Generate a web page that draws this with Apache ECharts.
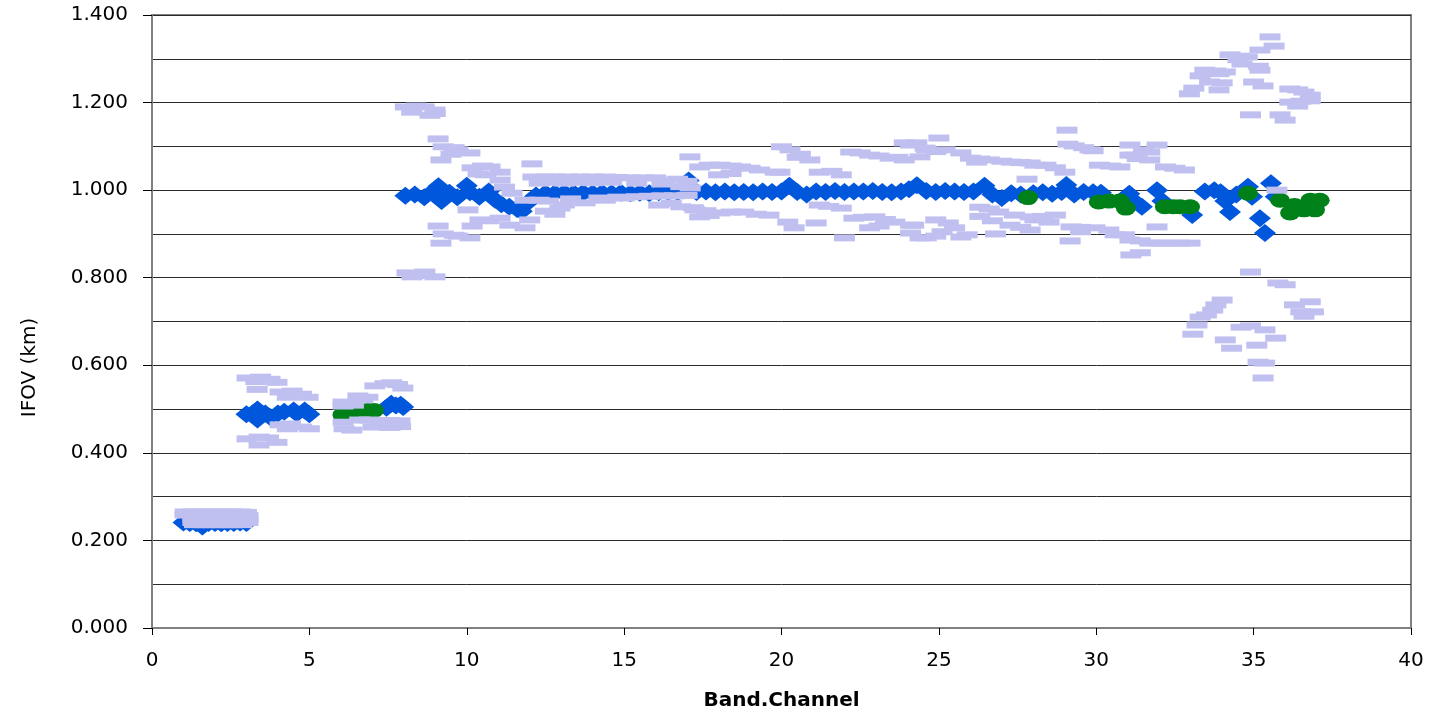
<!DOCTYPE html>
<html><head><meta charset="utf-8">
<script src="https://cdn.jsdelivr.net/npm/echarts@6/dist/echarts.min.js"></script>
<style>html,body{margin:0;padding:0;background:#fff;overflow:hidden}#c{width:1439px;height:717px}</style>
</head><body><div id="c"></div>
<script>
// ---- axis settings ----
const xMin = 0, xMax = 40, xStep = 5;
const yMin = 0, yMax = 1.4, yStep = 0.2;
const xTitle = 'Band.Channel';
const yTitle = 'IFOV (km)';

// ---- blue diamonds (measured IFOV) ----
const blueBand1_2 = [[1.0,0.241],[1.2,0.240],[1.4,0.239],[1.6,0.232],[1.8,0.240],[2.0,0.240],[2.2,0.239],[2.4,0.240],[2.6,0.240],[2.8,0.241],[3.0,0.240]];
const blueBand3_7 = [[3.0,0.488],[3.2,0.490],[3.35,0.499],[3.35,0.476],[3.6,0.490],[3.75,0.482],[4.0,0.490],[4.2,0.494],[4.5,0.497],[4.6,0.490],[4.85,0.497],[5.0,0.488],
  [7.45,0.503],[7.6,0.512],[7.75,0.508],[7.9,0.510],[7.98,0.505]];
const blue1km = [[8.05,0.987],[8.35,0.990],[8.65,0.984],[8.9,0.996],[9.1,1.009],[9.2,0.975],[9.45,0.994],[9.7,0.984],[10.0,1.010],[10.1,0.995],[10.4,0.985],[10.7,0.997],[10.9,0.978],[11.1,0.968],[11.35,0.962],[11.6,0.957],[11.75,0.952],[12.0,0.975],[12.2,0.988],
  [12.5,0.993],[12.8,0.993],[13.1,0.994],[13.4,0.993],[13.7,0.994],[14.0,0.993],[14.3,0.994],[14.6,0.993],[14.9,0.994],[15.2,0.993],[15.5,0.994],[15.8,0.993],[16.1,0.995],[16.4,0.996],[16.7,0.995],[17.05,1.022],[17.3,0.996],[17.6,0.997],[17.9,0.995],
  [18.2,0.997],[18.5,0.995],[18.8,0.996],[19.1,0.995],[19.4,0.997],[19.7,0.996],[20.0,0.997],[20.25,1.010],[20.5,0.996],[20.8,0.990],[21.1,0.997],[21.4,0.996],[21.7,0.998],[22.0,0.996],[22.3,0.997],[22.6,0.997],[22.9,0.998],[23.2,0.996],[23.5,0.995],
  [23.8,0.997],[24.05,1.002],[24.3,1.011],[24.6,0.998],[24.9,0.996],[25.2,0.998],[25.5,0.997],[25.8,0.996],[26.1,0.997],[26.45,1.010],[26.7,0.990],[27.0,0.982],[27.3,0.993],[27.6,0.990],[28.0,0.993],[28.3,0.995],[28.6,0.992],[28.9,0.996],[29.05,1.012],
  [29.3,0.990],[29.6,0.996],[29.9,0.995],[30.15,0.994],
  [31.05,0.992],[31.2,0.975],[31.45,0.962],[31.93,1.000],[32.1,0.975],[33.05,0.943],[33.45,0.997],[33.75,1.000],[33.95,0.995],[34.1,0.975],[34.25,0.950],[34.45,0.990],[34.82,1.008],[34.95,0.985],[35.2,0.936],[35.36,0.902],[35.55,1.016],[35.7,0.985]];

// ---- green circles ----
const greenBand6_7 = [[6.05,0.487],[6.25,0.489],[6.45,0.491],[6.65,0.495],[6.85,0.497],[7.05,0.497]];
const green1km = [[27.83,0.983],[30.08,0.973],[30.4,0.975],[30.75,0.975],[30.94,0.959],[32.18,0.962],[32.45,0.962],[32.66,0.962],[32.98,0.962],[34.82,0.993],
  [35.84,0.977],[36.16,0.948],[36.3,0.965],[36.6,0.955],[36.8,0.977],[36.95,0.955],[37.1,0.977]];

// ---- lavender rectangles (per-detector values) ----
const lavBand1_2 = [[1.05,0.265],[1.3,0.265],[1.55,0.265],[1.8,0.265],[2.05,0.265],[2.3,0.265],[2.55,0.265],[2.8,0.265],[3.0,0.264],
  [1.05,0.258],[1.3,0.258],[1.6,0.258],[1.9,0.258],[2.2,0.258],[2.5,0.258],[2.8,0.258],[3.05,0.257],
  [1.3,0.249],[1.6,0.249],[1.9,0.249],[2.2,0.249],[2.5,0.249],[2.8,0.249],[3.05,0.249],
  [1.3,0.241],[1.6,0.241],[1.9,0.241],[2.2,0.241],[2.5,0.241],[2.8,0.241],[3.05,0.241],
  [1.35,0.236],[1.65,0.236],[1.95,0.236],[2.25,0.236],[2.55,0.236],[2.85,0.236]];
const lavBand3_7 = [[3.02,0.571],[3.45,0.573],[3.75,0.568],[3.97,0.561],[3.3,0.563],[3.34,0.545],
  [4.07,0.539],[4.45,0.541],[4.75,0.534],[4.96,0.527],[4.3,0.527],
  [4.07,0.464],[4.4,0.466],[4.75,0.459],[5.0,0.455],[4.3,0.455],
  [3.02,0.432],[3.4,0.436],[3.7,0.434],[3.97,0.424],[3.4,0.418],
  [6.07,0.516],[6.3,0.514],[6.07,0.507],[6.4,0.509],[6.54,0.530],[6.86,0.527],[6.7,0.521],
  [7.08,0.553],[7.4,0.558],[7.62,0.560],[7.97,0.548],[7.8,0.556],
  [6.07,0.470],[6.1,0.455],[6.35,0.452],[6.6,0.475],[6.9,0.475],[7.24,0.470],[7.56,0.474],[7.88,0.473],[7.56,0.458],[7.02,0.459],[7.9,0.460]];
const lavUpper = [[8.05,1.190],[8.4,1.192],[8.65,1.190],[8.99,1.183],[8.83,1.171],[8.25,1.178],[9.0,1.175],
  [9.09,1.117],[9.25,1.099],[9.6,1.097],[9.72,1.092],[10.1,1.085],[9.5,1.082],[9.18,1.069],
  [10.17,1.051],[10.5,1.055],[10.74,1.053],[11.06,1.041],[10.36,1.037],[10.6,1.035],[12.07,1.060],
  [11.06,1.023],[11.2,1.007],[11.44,0.993],[11.85,0.977],
  [12.1,1.030],[12.5,1.030],[12.8,1.030],[13.2,1.030],[13.6,1.030],[14.0,1.030],[14.4,1.030],[14.8,1.029],[15.2,1.028],[15.6,1.028],[16.0,1.028],[16.3,1.023],[16.7,1.025],[17.0,1.020],
  [12.3,1.016],[12.7,1.018],[13.1,1.016],[13.5,1.018],[14.0,1.017],[14.6,1.018],[15.4,1.016],[16.2,1.014],[16.8,1.008],[17.1,1.005],
  [17.09,1.076],[17.4,1.053],[17.7,1.057],[18.05,1.057],[18.4,1.055],[18.7,1.053],[19.0,1.050],[19.3,1.046],[19.8,1.041],[18.0,1.035],[18.4,1.038],[19.95,1.041],
  [20.0,1.099],[20.27,1.092],[20.6,1.082],[20.9,1.069],[20.5,1.075],[21.2,1.041],[21.6,1.043],[21.9,1.035],
  [22.2,1.087],[22.5,1.085],[22.8,1.080],[23.1,1.078],[23.45,1.073],[23.9,1.069],[23.7,1.075],[24.1,1.103],[24.6,1.092],[23.9,1.108],[24.3,1.108],
  [25.0,1.119],[24.56,1.096],[25.2,1.092],[25.7,1.085],[24.4,1.076],[24.9,1.088],
  [26.0,1.073],[26.3,1.071],[26.6,1.069],[27.0,1.066],[27.3,1.064],[27.6,1.063],[27.9,1.062],[28.4,1.057],[26.2,1.064],
  [29.07,1.137],[29.3,1.101],[29.6,1.097],[29.8,1.092],[29.1,1.105],[29.9,1.090],
  [30.1,1.057],[30.45,1.055],[30.75,1.053],[31.07,1.103],[31.93,1.103],
  [31.07,1.080],[31.23,1.080],[31.5,1.092],[31.7,1.087],[31.7,1.069],[31.3,1.072],
  [32.2,1.053],[32.5,1.050],[32.8,1.046],[28.7,1.051],[29.0,1.041],[28.05,1.057],[27.8,1.025],[35.74,1.000]];
const lavLower = [[12.3,0.977],[12.6,0.975],[13.1,0.966],[13.3,0.980],[13.76,0.971],[14.2,0.982],[14.4,0.977],[14.8,0.984],[15.0,0.982],[15.4,0.985],[15.8,0.986],[16.2,0.987],[16.6,0.987],[17.0,0.988],[16.1,0.966],[16.5,0.970],[16.8,0.962],[17.2,0.960],
  [12.5,0.952],[12.96,0.959],[12.8,0.945],[12.0,0.932],[11.85,0.914],
  [10.04,0.955],[10.42,0.932],[11.06,0.936],[11.37,0.920],[10.17,0.918],[10.7,0.930],
  [9.09,0.918],[9.25,0.900],[9.6,0.897],[9.72,0.895],[10.1,0.891],[9.18,0.879],
  [8.10,0.811],[8.67,0.813],[8.99,0.802],[8.26,0.802],[8.5,0.805],
  [17.25,0.955],[17.6,0.953],[18.05,0.948],[18.4,0.950],[18.8,0.950],[19.2,0.945],[19.6,0.943],[17.4,0.939],[17.7,0.942],
  [20.2,0.927],[20.4,0.914],[21.2,0.966],[21.5,0.963],[21.9,0.959],[21.1,0.925],[22.0,0.891],
  [22.3,0.936],[22.6,0.938],[22.97,0.939],[23.3,0.933],[23.6,0.927],[24.1,0.920],[22.8,0.914],[23.1,0.918],[24.1,0.902],[24.6,0.891],
  [24.2,0.920],[24.9,0.932],[25.5,0.914],[25.7,0.893],[24.4,0.891],[25.1,0.905],[25.3,0.925],[24.9,0.895],[25.9,0.898],[26.8,0.900],
  [26.3,0.961],[26.6,0.957],[26.9,0.950],[26.3,0.940],[26.7,0.930],
  [27.26,0.920],[27.6,0.915],[27.9,0.909],[27.4,0.943],[27.9,0.939],[28.05,0.932],[28.5,0.927],[28.7,0.943],[28.3,0.940],
  [29.2,0.916],[29.5,0.915],[29.96,0.914],[30.4,0.909],[30.6,0.898],[30.9,0.898],[29.5,0.905],[29.17,0.884],
  [31.07,0.886],[31.4,0.884],[31.7,0.879],[32.0,0.879],[32.3,0.879],[32.65,0.879],[32.98,0.879],[31.93,0.916],[31.1,0.852],[31.4,0.857]];
const lavFarHigh = [[35.52,1.350],[35.65,1.329],[35.2,1.320],[34.25,1.309],[34.55,1.306],[34.8,1.304],[34.5,1.298],[34.63,1.288],[33.45,1.274],[33.8,1.272],[34.1,1.270],[33.9,1.266],
  [35.2,1.274],[35.15,1.283],[33.3,1.261],[33.6,1.247],[34.0,1.245],[35.0,1.247],[35.3,1.238],[33.1,1.233],[32.96,1.220],[33.9,1.229],
  [36.15,1.231],[36.4,1.229],[36.6,1.224],[36.8,1.217],[36.15,1.201],[36.5,1.203],[36.8,1.204],[36.4,1.192],[34.9,1.172],[35.84,1.172],[36.0,1.160]];
const lavFarLow = [[34.9,0.813],[35.77,0.788],[36.0,0.784],[34.0,0.749],[33.8,0.738],[33.7,0.726],[33.5,0.715],[33.3,0.710],[36.3,0.738],[36.8,0.745],[36.5,0.722],[36.9,0.722],[36.6,0.712],
  [33.2,0.692],[33.07,0.671],[34.6,0.687],[34.9,0.690],[35.36,0.681],[34.1,0.658],[35.7,0.662],[34.3,0.639],[35.1,0.646],[35.14,0.607],[35.35,0.605],[35.3,0.571]];

const BLUE = '#0057dc', GREEN = '#008018', LAV = '#c0c0f0';
const FONT = 'DejaVu Sans';

const chart = echarts.init(document.getElementById('c'), null, {renderer: 'canvas'});
const blueData = blueBand1_2.concat(blueBand3_7, blue1km);
const greenData = greenBand6_7.concat(green1km);
const lavData = lavBand1_2.concat(lavBand3_7, lavUpper, lavLower, lavFarHigh, lavFarLow);

chart.setOption({
  animation: false,
  backgroundColor: '#ffffff',
  grid: {left: 152, right: 28, top: 15, bottom: 89, show: true, borderColor: '#808080', borderWidth: 2, backgroundColor: 'transparent'},
  xAxis: {
    type: 'value', min: xMin, max: xMax, interval: xStep,
    name: xTitle, nameLocation: 'middle', nameGap: 63,
    nameTextStyle: {fontFamily: FONT, fontSize: 20, fontWeight: 'bold', color: '#000'},
    axisLine: {show: true, lineStyle: {color: '#808080', width: 2}},
    axisTick: {show: true, length: 7, lineStyle: {color: '#000', width: 1}},
    axisLabel: {fontFamily: FONT, fontSize: 20, color: '#000', margin: 23},
    splitLine: {show: false}
  },
  yAxis: {
    type: 'value', min: yMin, max: yMax, interval: yStep,
    name: yTitle, nameLocation: 'middle', nameGap: 112, nameRotate: 90,
    nameTextStyle: {fontFamily: FONT, fontSize: 20, color: '#000', padding: [0, 92, 0, 0]},
    axisLine: {show: true, lineStyle: {color: '#808080', width: 2}},
    axisTick: {show: true, length: 9, lineStyle: {color: '#000', width: 1}},
    axisLabel: {fontFamily: FONT, fontSize: 20, color: '#000', margin: 24, formatter: v => v.toFixed(3), padding: [8, 0, 0, 0]},
    splitLine: {show: true, lineStyle: {color: '#2a2a2a', width: 1}},
    minorTick: {show: false, splitNumber: 2},
    minorSplitLine: {show: true, lineStyle: {color: '#2a2a2a', width: 1}}
  },
  series: [
    {type: 'scatter', name: 'measured', data: blueData, symbol: 'diamond', symbolSize: [22, 18], itemStyle: {color: BLUE, opacity: 1}, silent: true, z: 2},
    {type: 'scatter', name: 'nominal', data: greenData, symbol: 'circle', symbolSize: [20, 15], itemStyle: {color: GREEN, opacity: 1}, silent: true, z: 3},
    {type: 'scatter', name: 'detectors', data: lavData, symbol: 'rect', symbolSize: [21, 7], itemStyle: {color: LAV, opacity: 1}, silent: true, z: 4}
  ]
});
</script>
</body></html>
